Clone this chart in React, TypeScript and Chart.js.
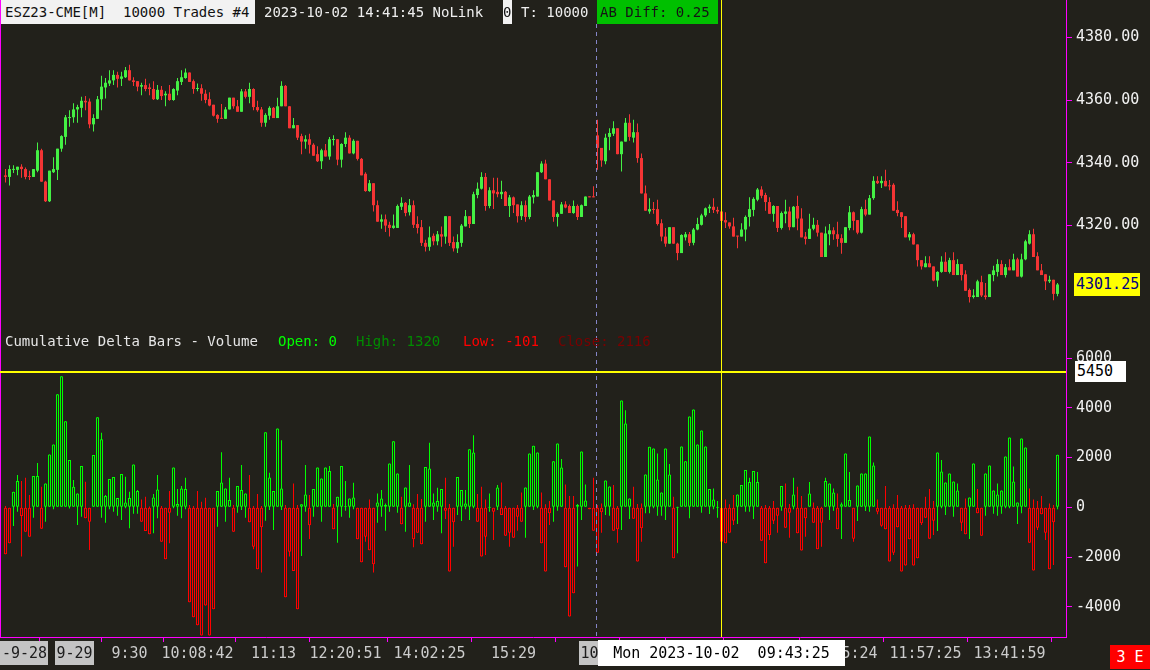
import React, { useEffect, useRef } from 'react';
import { Chart, registerables } from 'chart.js';
Chart.register(...registerables);

const BG = '#22211b';
const MAGENTA = '#ff00ff';
const MONO = '"DejaVu Sans Mono", "Liberation Mono", monospace';
const CROSS = '#ffff00';

// ---- price bars (OHLC) ----
const candleOpen = [
  4336.0,4335.5,4337.75,4337.75,4338.75,4338.0,4335.75,4335.5,4337.5,4344.0,
  4334.0,4327.75,4337.0,4337.75,4344.5,4348.25,4354.25,4354.5,4357.0,4357.5,
  4359.75,4359.5,4352.25,4354.0,4360.25,4364.0,4365.25,4366.25,4368.0,4366.75,
  4367.25,4369.5,4366.25,4366.0,4364.25,4364.75,4364.0,4363.5,4360.25,4363.25,
  4361.5,4362.0,4360.0,4363.0,4365.75,4367.0,4368.75,4366.0,4363.5,4363.75,
  4362.0,4360.25,4358.5,4355.25,4354.25,4354.0,4357.0,4360.75,4358.0,4356.25,
  4362.75,4361.0,4363.5,4357.75,4357.0,4352.75,4355.0,4357.5,4354.25,4358.0,
  4364.5,4358.0,4351.0,4352.0,4348.5,4346.75,4347.5,4345.75,4342.75,4340.5,
  4344.0,4342.0,4347.25,4347.5,4341.0,4346.0,4348.0,4343.0,4347.0,4341.25,
  4336.5,4331.0,4333.5,4326.5,4321.25,4322.0,4320.25,4319.25,4319.25,4326.0,
  4327.25,4324.25,4326.5,4320.5,4319.5,4314.5,4313.25,4316.75,4315.0,4317.25,
  4316.5,4323.0,4314.75,4312.75,4314.5,4319.75,4323.0,4320.5,4329.75,4331.75,
  4335.5,4326.25,4331.25,4330.75,4330.0,4330.75,4326.25,4329.0,4326.75,4323.0,
  4326.5,4322.75,4329.0,4329.25,4337.0,4339.75,4334.75,4328.0,4322.75,4323.75,
  4326.75,4326.25,4324.0,4326.25,4322.75,4326.25,4329.25,4329.25,4348.75,4344.75,
  4340.5,4348.25,4349.25,4351.0,4342.75,4346.75,4352.75,4348.0,4349.75,4341.5,
  4330.25,4324.5,4325.25,4325.25,4320.75,4316.5,4314.25,4319.5,4314.25,4311.25,
  4316.25,4317.25,4314.5,4318.75,4320.25,4323.25,4325.5,4326.0,4325.0,4324.5,
  4321.75,4321.0,4319.75,4316.75,4316.5,4318.75,4322.75,4325.0,4328.25,4331.5,
  4329.75,4327.5,4323.75,4326.25,4319.25,4323.75,4324.5,4319.5,4326.25,4322.25,
  4316.5,4315.75,4319.0,4320.25,4317.75,4310.0,4317.25,4318.5,4317.25,4316.0,
  4314.5,4319.25,4324.25,4321.75,4317.75,4325.25,4323.5,4328.75,4334.25,4333.5,
  4334.25,4332.75,4333.0,4325.0,4324.25,4323.0,4316.25,4317.25,4314.0,4309.0,
  4306.75,4308.0,4307.0,4302.5,4305.25,4308.5,4305.25,4309.0,4304.25,4307.75,
  4304.5,4299.5,4297.25,4297.25,4302.0,4297.75,4297.25,4304.25,4305.25,4307.75,
  4304.25,4306.75,4305.75,4309.25,4303.75,4309.25,4314.25,4317.25,4310.25,4305.75,
  4304.5,4302.25,4302.75,4298.25,
];
const candleHigh = [
  4338.0,4339.25,4339.25,4338.75,4339.5,4338.5,4337.5,4338.0,4346.5,4344.5,
  4334.25,4337.5,4341.75,4344.5,4348.75,4355.25,4356.75,4359.0,4358.5,4361.0,
  4361.25,4360.5,4355.5,4361.25,4367.75,4367.0,4369.5,4369.5,4369.0,4369.0,
  4370.5,4371.25,4367.25,4366.0,4365.5,4366.75,4365.25,4366.0,4364.75,4364.5,
  4362.75,4364.75,4363.75,4367.0,4369.5,4370.0,4368.75,4366.5,4365.25,4365.0,
  4363.25,4362.5,4358.5,4355.5,4358.75,4357.75,4360.75,4360.75,4360.0,4363.5,
  4363.5,4365.5,4363.75,4359.75,4357.75,4355.75,4358.0,4357.75,4360.75,4366.0,
  4364.75,4358.0,4354.25,4352.0,4349.25,4348.75,4349.25,4346.25,4345.25,4344.5,
  4346.0,4348.25,4348.75,4347.5,4346.25,4349.75,4348.75,4347.5,4347.0,4341.5,
  4337.0,4334.5,4333.5,4328.0,4323.5,4323.5,4321.25,4323.5,4326.75,4329.0,
  4327.5,4328.5,4328.0,4323.0,4321.75,4315.5,4319.75,4317.5,4318.25,4319.75,
  4323.0,4323.0,4316.5,4317.25,4320.5,4325.0,4323.0,4330.75,4333.75,4337.0,
  4336.75,4332.25,4335.25,4335.25,4334.25,4331.0,4329.75,4329.25,4326.75,4327.75,
  4328.0,4329.75,4331.25,4337.0,4340.5,4341.0,4334.75,4328.0,4324.25,4327.5,
  4327.75,4326.75,4328.0,4326.75,4326.75,4329.25,4329.25,4332.5,4353.75,4344.75,
  4349.25,4351.0,4353.25,4351.0,4346.75,4354.25,4355.5,4353.75,4352.5,4343.0,
  4332.75,4328.75,4327.5,4328.25,4322.0,4319.25,4319.5,4319.5,4314.5,4317.25,
  4318.0,4318.0,4319.25,4322.5,4323.75,4325.75,4326.75,4328.75,4326.0,4327.5,
  4324.25,4321.0,4322.5,4316.75,4320.75,4323.25,4329.0,4329.0,4332.0,4332.5,
  4330.5,4329.0,4326.5,4326.25,4324.5,4328.25,4326.0,4326.25,4329.5,4325.5,
  4318.0,4323.75,4322.5,4321.75,4317.75,4319.75,4320.5,4319.5,4321.25,4317.25,
  4319.5,4326.25,4324.5,4321.75,4326.0,4328.25,4329.75,4335.75,4335.75,4335.75,
  4337.75,4334.5,4333.5,4327.75,4324.25,4323.0,4318.0,4317.75,4314.0,4309.0,
  4310.25,4310.25,4307.0,4305.5,4310.25,4311.5,4309.75,4311.5,4309.25,4307.75,
  4305.75,4300.0,4299.75,4302.75,4304.0,4301.75,4304.5,4307.25,4309.25,4309.0,
  4307.75,4309.25,4311.0,4309.75,4311.0,4315.5,4318.5,4319.0,4311.5,4307.75,
  4304.5,4304.0,4302.75,4301.75,
];
const candleLow = [
  4333.75,4332.75,4336.75,4336.0,4335.25,4334.75,4334.5,4335.5,4337.0,4334.0,
  4327.5,4327.5,4336.75,4334.5,4343.5,4345.75,4351.5,4352.75,4352.75,4354.5,
  4356.75,4351.0,4350.0,4354.0,4356.75,4360.5,4364.5,4364.75,4364.0,4364.5,
  4367.0,4366.25,4364.5,4362.75,4361.5,4362.75,4361.5,4360.0,4360.0,4360.0,
  4358.0,4359.75,4359.75,4361.5,4364.75,4366.75,4365.75,4362.0,4362.75,4359.75,
  4359.0,4358.0,4354.75,4352.75,4354.0,4354.0,4357.0,4357.25,4356.25,4356.25,
  4360.5,4359.0,4356.75,4356.25,4351.5,4351.5,4353.75,4354.25,4354.25,4358.0,
  4358.0,4351.0,4351.0,4347.25,4342.75,4344.5,4343.0,4342.25,4340.25,4338.0,
  4342.0,4341.0,4345.5,4339.25,4338.5,4345.0,4343.0,4342.75,4340.75,4336.0,
  4330.75,4330.75,4324.5,4321.25,4319.0,4318.0,4316.5,4319.0,4319.25,4325.0,
  4323.0,4323.25,4319.25,4317.5,4313.5,4311.75,4312.0,4313.75,4313.75,4313.25,
  4314.25,4313.5,4311.75,4311.25,4313.25,4319.75,4319.25,4320.5,4328.75,4331.5,
  4324.75,4325.5,4325.25,4329.0,4328.5,4326.25,4322.75,4324.0,4321.0,4321.75,
  4321.25,4322.0,4327.0,4329.25,4336.75,4334.75,4328.0,4321.25,4319.75,4323.75,
  4325.5,4324.0,4323.75,4321.75,4322.75,4326.25,4329.0,4329.0,4337.75,4338.75,
  4339.5,4344.0,4348.5,4342.75,4337.25,4346.75,4347.0,4346.5,4340.0,4330.25,
  4324.75,4323.75,4323.75,4320.0,4315.0,4313.25,4314.25,4314.25,4309.0,4311.25,
  4315.25,4313.5,4313.75,4318.5,4320.0,4322.75,4324.0,4324.0,4323.75,4321.5,
  4319.25,4319.0,4316.5,4312.75,4316.5,4315.0,4319.75,4323.0,4327.75,4328.75,
  4324.75,4323.75,4321.25,4318.0,4318.75,4320.75,4318.5,4319.5,4318.5,4316.25,
  4314.0,4315.75,4318.5,4316.5,4310.0,4310.0,4313.75,4315.5,4313.25,4311.0,
  4314.5,4318.5,4318.5,4317.25,4317.5,4323.0,4323.5,4328.25,4333.25,4332.0,
  4332.5,4331.25,4324.75,4323.0,4319.25,4316.25,4315.25,4314.0,4307.0,4306.0,
  4306.75,4306.75,4302.25,4300.5,4305.0,4305.25,4304.75,4304.25,4304.25,4302.5,
  4299.25,4295.5,4296.75,4297.25,4297.25,4296.5,4297.25,4302.25,4303.75,4304.25,
  4303.5,4305.75,4305.75,4303.75,4303.5,4309.0,4314.0,4310.0,4305.75,4304.25,
  4299.5,4301.75,4296.25,4297.5,
];
const candleClose = [
  4335.5,4338.0,4338.0,4338.75,4338.0,4335.5,4335.5,4338.0,4344.0,4334.0,
  4327.75,4337.5,4338.0,4344.5,4348.5,4354.5,4354.5,4357.0,4357.75,4359.75,
  4359.25,4352.25,4354.25,4360.25,4364.25,4365.5,4366.25,4368.0,4366.75,4367.5,
  4369.5,4366.25,4365.75,4364.25,4364.75,4363.5,4363.5,4360.25,4363.25,4361.25,
  4362.0,4360.0,4363.5,4366.0,4367.25,4368.75,4365.75,4363.5,4363.75,4362.0,
  4360.0,4358.25,4355.0,4354.0,4354.0,4357.0,4360.75,4358.0,4356.25,4362.75,
  4361.0,4363.5,4357.75,4356.75,4352.75,4355.25,4357.5,4354.25,4358.0,4364.5,
  4358.0,4351.0,4352.0,4348.0,4346.75,4347.5,4345.75,4342.25,4340.5,4344.0,
  4342.0,4347.5,4347.5,4341.0,4346.0,4348.0,4343.0,4347.0,4341.25,4336.0,
  4331.0,4333.5,4326.5,4321.25,4322.0,4320.0,4319.25,4320.0,4326.25,4327.25,
  4324.0,4326.5,4320.25,4319.25,4314.5,4313.25,4316.25,4315.0,4317.25,4316.5,
  4323.0,4314.5,4312.75,4314.75,4320.0,4323.0,4320.5,4330.0,4331.75,4335.5,
  4326.25,4331.25,4330.25,4330.0,4330.75,4326.25,4329.0,4326.5,4323.0,4326.5,
  4322.75,4329.25,4329.75,4337.0,4339.75,4334.75,4328.0,4322.75,4323.75,4326.75,
  4325.75,4324.0,4326.25,4322.75,4326.5,4329.25,4329.0,4329.0,4344.75,4340.75,
  4348.0,4349.5,4351.0,4342.75,4346.75,4352.75,4348.25,4349.75,4341.5,4330.25,
  4324.75,4325.25,4325.0,4320.5,4316.5,4314.25,4319.5,4314.25,4311.25,4317.0,
  4317.25,4314.5,4318.75,4320.5,4323.25,4325.5,4326.0,4325.0,4324.5,4321.5,
  4321.0,4319.75,4316.5,4316.5,4318.75,4322.75,4325.25,4328.5,4331.5,4329.5,
  4327.5,4323.75,4326.25,4319.25,4324.0,4324.5,4319.5,4326.0,4322.25,4316.25,
  4315.75,4319.0,4320.25,4317.75,4310.0,4317.5,4318.5,4317.25,4315.75,4314.5,
  4319.5,4324.25,4321.5,4317.75,4325.25,4323.5,4328.75,4334.25,4333.5,4334.25,
  4332.5,4332.5,4324.75,4324.0,4322.75,4316.25,4317.25,4314.0,4309.0,4307.0,
  4308.0,4306.75,4302.5,4305.25,4308.5,4305.25,4309.0,4304.25,4307.75,4304.25,
  4299.25,4297.25,4297.75,4302.25,4297.75,4297.25,4304.5,4305.75,4307.75,4304.25,
  4306.75,4305.75,4309.25,4303.75,4309.25,4315.0,4317.25,4310.0,4305.75,4304.25,
  4302.25,4302.75,4298.25,4301.25,
];

// ---- cumulative delta bars (open is 0) ----
const deltaClose = [
  -1891,-1449,627,1055,-351,-980,-1181,1256,1256,-860,
  961,2126,2528,4550,5273,3465,1899,827,560,1658,
  -445,-578,2100,3626,2742,453,1135,1216,372,1336,
  198,372,1725,653,-578,-953,-1087,399,720,-1382,
  -2092,-217,1604,131,760,734,-3819,-4421,-4743,-5158,
  -3953,-5158,-4100,653,1002,760,292,-980,854,694,
  560,-605,-1583,-2493,-806,3024,1202,653,3171,760,
  -3618,-1784,-2560,-4100,118,520,-726,734,1604,1162,
  1604,1457,-886,426,1658,51,359,399,-1288,-2212,
  -1181,-1730,-2292,198,359,91,1765,2662,1363,-685,
  801,198,-1288,-1020,-1489,1618,1564,198,252,734,
  -137,-2587,-605,1216,694,158,2341,2207,-578,-1984,
  -1181,24,-177,801,-311,-1141,-1020,-1221,-378,-578,
  801,2167,2474,2207,-1449,-2587,-244,1858,2568,1604,
  -2413,-4395,-3457,91,2247,278,-80,-940,-1824,-203,
  1082,841,-940,-886,4296,3372,359,-458,-2185,-846,
  1323,2434,2367,1122,600,2367,1323,-2051,24,2448,
  1858,3653,3934,2528,3090,2448,734,319,24,-1382,
  -1449,-1020,-538,520,895,1497,1015,1457,1015,-1342,
  -2252,-1114,-538,-338,854,-819,-217,520,-1047,-1743,
  -445,560,-619,-1690,-619,1055,961,600,-886,118,
  2167,292,-1261,881,1363,1363,2849,1684,-177,-739,
  -886,-2185,-1824,-806,-2587,-2346,-1288,-2346,-2051,-645,
  -418,-1261,-538,2207,1443,1002,1363,1042,680,-619,
  -1087,399,1765,-244,-1141,1363,1684,680,520,680,
  2046,2809,1042,198,2769,2407,-1422,-2547,-819,-284,
  -1020,-2493,-605,2116,
];
const deltaHigh = [
  51,0,627,1296,1055,1189,493,1256,1778,827,
  961,2126,2528,4550,5273,3465,1899,1095,560,1658,
  1028,0,2100,3626,2997,493,1135,1216,372,1336,
  1229,627,1725,694,319,426,30,533,1296,51,
  0,653,1604,734,854,1189,91,51,653,225,
  386,0,0,653,2220,760,1189,91,854,1698,
  560,1296,51,533,51,3024,1390,653,3171,2702,
  91,0,961,91,118,1698,493,734,1604,1162,
  1604,1658,131,426,1658,1055,359,988,0,0,
  0,319,0,560,694,158,1765,2662,1363,426,
  801,1698,118,533,332,1618,2595,560,787,734,
  1189,131,0,1216,694,694,2341,2903,533,827,
  319,560,0,895,1002,51,0,0,91,600,
  801,2167,2474,2207,600,118,252,1858,2568,1939,
  921,453,453,131,2247,921,0,1189,91,158,
  1082,841,895,51,4296,3907,359,827,131,158,
  1323,2434,2367,2167,600,2367,1738,426,24,2448,
  1858,3653,3934,2528,3090,2448,734,760,252,734,
  319,118,493,520,895,1497,1189,1457,1417,51,
  91,51,252,0,854,961,131,1189,827,453,
  0,1015,198,51,24,1189,961,760,560,198,
  2167,1417,0,881,1363,1363,2849,1805,319,0,
  854,51,118,493,51,91,91,118,0,0,
  426,734,252,2207,1899,1002,1363,1042,961,0,
  359,399,1765,734,0,1363,1684,680,961,680,
  2046,2809,1644,198,2769,2407,760,319,252,453,
  0,158,91,2116,
];
const deltaLow = [
  -1891,-1449,-753,-177,-1984,-980,-1181,-418,0,-860,
  -578,0,-80,0,0,0,-50,0,-712,-378,
  -445,-1717,0,0,-418,-619,-80,-177,-338,-511,
  -40,-846,-257,-257,-578,-953,-1087,-1047,-445,-1382,
  -2092,-1449,-40,-338,-445,-80,-3819,-4421,-4743,-5158,
  -3953,-5158,-4100,-779,0,-578,0,-980,-217,-110,
  -418,-605,-1690,-2493,-2627,-538,-110,-913,0,-110,
  -3618,-1984,-2560,-4100,-1958,-177,-1275,-378,0,-578,
  0,0,-886,-1422,-378,-137,-418,-80,-1288,-2212,
  -1382,-1730,-2627,-619,-378,-940,-177,0,-217,-685,
  -980,0,-1610,-1020,-1489,-578,0,-511,-177,-1047,
  -472,-2587,-1583,-311,-552,-80,-511,-40,-578,-1984,
  -1917,-177,-1315,-110,-311,-1141,-1583,-1221,-940,-578,
  -1221,0,-110,-40,-1449,-2587,-712,-578,-137,0,
  -2413,-4395,-3457,-2386,-511,0,-80,-940,-1824,-1020,
  -311,-338,-940,-1422,-913,0,-472,-458,-2185,-1382,
  -244,-244,-40,-338,-338,-511,0,-2051,-1851,0,
  0,-445,0,0,-217,0,-271,-80,-418,-1382,
  -1449,-1020,-712,-672,0,-177,-177,-472,0,-1342,
  -2252,-1315,-672,-1020,-137,-819,-1221,-80,-1047,-1743,
  -1181,0,-619,-1690,-1583,0,-511,-137,-886,-1275,
  0,0,-1382,-552,0,-150,-177,0,-283,-779,
  -886,-2185,-1917,-806,-2587,-2346,-1288,-2346,-2051,-712,
  -418,-1261,-1114,-953,-40,-311,0,-378,0,-953,
  -1087,-1275,0,-244,-1141,-338,0,-257,-338,-257,
  -40,-40,0,-672,-244,0,-1422,-2547,-913,-284,
  -1315,-2493,-2319,-80,
];

// ---- axes ----
const priceTicks = [4320, 4340, 4360, 4380];
const deltaTicks = [-4000, -2000, 0, 2000, 4000, 6000];
const xTickIndex = [0, 17, 31, 48, 67, 85, 106, 127, 148, 159, 171, 188, 209, 230, 251];
const xLabelIndex = [0, 17, 31, 48, 67, 85, 106, 127, 148, 209, 230, 251];
const xLabelText = ['-9-28', '9-29', '9:30', '10:08:42', '11:13', '12:20:51', '14:02:25', '15:29', '10-02', '10:55:24', '11:57:25', '13:41:59'];
const xLabelBoxed = [true, true, false, false, false, false, false, false, true, false, false, false];
const sessionBreak = 147.75;
const crossIndex = 179;
const crossDelta = 5450;
const crossLabel = 'Mon 2023-10-02  09:43:25';

const X_MIN = -1.375;
const X_MAX = 265.125;
const P_MAX = 4391.85;
const P_MIN = 4286.75;
const D_MAX = 7135;
const D_MIN = -5219;

const idx = candleClose.map((_, i) => i);
const UP = '#44f044';
const DN = '#f43434';
const candleCol = idx.map((i) => (candleClose[i] >= candleOpen[i] ? UP : DN));
const DUP = '#00ff00';
const DDN = '#ff0000';
const deltaCol = idx.map((i) => (deltaClose[i] >= 0 ? DUP : DDN));

function drawVLines(chart: any, offsetY: number, bottomPage: number) {
  const ctx = chart.ctx;
  const xs = chart.scales.x;
  ctx.save();
  ctx.fillStyle = MAGENTA;
  ctx.fillRect(0, 0, 1, bottomPage - offsetY);
  const sx = Math.floor(xs.getPixelForValue(sessionBreak));
  ctx.fillStyle = '#8585c8';
  for (let py = 24; py < bottomPage; py += 8) {
    const y0 = py - offsetY;
    const y1 = Math.min(py + 4, bottomPage) - offsetY;
    if (y1 <= 0) continue;
    ctx.fillRect(sx, Math.max(0, y0), 1, y1 - Math.max(0, y0));
  }
  const cx = Math.floor(xs.getPixelForValue(crossIndex));
  ctx.fillStyle = CROSS;
  ctx.fillRect(cx, 0, 1, bottomPage - offsetY);
  ctx.restore();
}

const baseOptions: any = {
  responsive: false,
  animation: false,
  events: [],
  layout: { padding: 0, autoPadding: false },
  plugins: { legend: { display: false }, tooltip: { enabled: false } },
};

function yAxis(min: number, max: number, ticks: number[], fmt: (v: number) => string) {
  return {
    type: 'linear',
    position: 'right',
    min,
    max,
    afterFit: (s: any) => {
      s.width = 84;
      s.paddingTop = 0;
      s.paddingBottom = 0;
    },
    afterBuildTicks: (s: any) => {
      s.ticks = ticks.map((v) => ({ value: v }));
    },
    ticks: {
      color: '#f2f2f2',
      font: { family: MONO, size: 15 },
      padding: 4,
      callback: (v: any) => fmt(Number(v)),
    },
    grid: { drawOnChartArea: false, drawTicks: true, tickLength: 6, color: MAGENTA, lineWidth: 1 },
    border: { display: true, color: MAGENTA, width: 1 },
  };
}

export default function App() {
  const topRef = useRef<HTMLCanvasElement>(null);
  const botRef = useRef<HTMLCanvasElement>(null);

  useEffect(() => {
    const top = new Chart(topRef.current as HTMLCanvasElement, {
      type: 'bar',
      data: {
        datasets: [
          {
            data: idx.map((i) => ({ x: i, y: [candleOpen[i], candleClose[i]] })) as any,
            backgroundColor: candleCol,
            borderWidth: 0,
            barThickness: 3,
            minBarLength: 1,
            grouped: false,
            inflateAmount: 0,
            order: 0,
          } as any,
          {
            data: idx.map((i) => ({ x: i, y: [candleLow[i], candleHigh[i]] })) as any,
            backgroundColor: candleCol,
            borderWidth: 0,
            barThickness: 1,
            grouped: false,
            inflateAmount: 0,
            order: 1,
          } as any,
        ],
      },
      options: {
        ...baseOptions,
        scales: {
          x: { type: 'linear', min: X_MIN, max: X_MAX, display: false, offset: false },
          y: yAxis(P_MIN, P_MAX, priceTicks, (v) => v.toFixed(2)),
        },
      },
      plugins: [
        {
          id: 'topOverlay',
          afterDraw: (chart: any) => drawVLines(chart, 0, 330),
        },
      ],
    } as any);

    const bot = new Chart(botRef.current as HTMLCanvasElement, {
      type: 'bar',
      data: {
        datasets: [
          {
            data: idx.map((i) => ({ x: i, y: [0, deltaClose[i]] })) as any,
            backgroundColor: BG,
            borderColor: deltaCol,
            borderWidth: 1,
            borderSkipped: false,
            barThickness: 3,
            minBarLength: 1,
            grouped: false,
            inflateAmount: 0,
            order: 0,
          } as any,
          {
            data: idx.map((i) => ({ x: i, y: [deltaLow[i], deltaHigh[i]] })) as any,
            backgroundColor: deltaCol,
            borderWidth: 0,
            barThickness: 1,
            grouped: false,
            inflateAmount: 0,
            order: 1,
          } as any,
        ],
      },
      options: {
        ...baseOptions,
        scales: {
          x: {
            type: 'linear',
            position: 'bottom',
            min: X_MIN,
            max: X_MAX,
            offset: false,
            afterFit: (s: any) => {
              s.height = 33;
              s.paddingLeft = 0;
              s.paddingRight = 0;
            },
            afterBuildTicks: (s: any) => {
              s.ticks = xTickIndex.map((v) => ({ value: v }));
            },
            ticks: { display: false },
            grid: { drawOnChartArea: false, drawTicks: true, tickLength: 5, color: MAGENTA, lineWidth: 1 },
            border: { display: true, color: MAGENTA, width: 1 },
          },
          y: yAxis(D_MIN, D_MAX, deltaTicks, (v) => String(v)),
        },
      },
      plugins: [
        {
          id: 'botOverlay',
          afterDraw: (chart: any) => {
            const ctx = chart.ctx;
            const xs = chart.scales.x;
            const ys = chart.scales.y;
            const area = chart.chartArea;
            drawVLines(chart, 330, 330 + area.bottom);
            ctx.save();
            const hy = Math.round(ys.getPixelForValue(crossDelta));
            ctx.fillStyle = CROSS;
            ctx.fillRect(0, hy - 1, area.right, 2);
            ctx.font = `15px ${MONO}`;
            ctx.textBaseline = 'middle';
            ctx.textAlign = 'left';
            const ly = area.bottom + 17;
            xLabelIndex.forEach((v, k) => {
              const text = xLabelText[k];
              const w = ctx.measureText(text).width;
              const cx = xs.getPixelForValue(v);
              let left: number;
              if (xLabelBoxed[k]) {
                left = Math.max(2, cx - 17);
                ctx.fillStyle = '#c4c4c4';
                ctx.fillRect(Math.round(left - 2), area.bottom + 4, Math.round(w + 3), 24);
                ctx.fillStyle = '#1c1c1c';
              } else {
                left = cx - w / 2;
                ctx.fillStyle = '#cccccc';
              }
              ctx.fillText(text, left, ly);
            });
            const ccx = xs.getPixelForValue(crossIndex);
            const cw = ctx.measureText(crossLabel).width;
            ctx.fillStyle = '#ffffff';
            ctx.fillRect(Math.round(ccx - cw / 2 - 15), area.bottom + 3, Math.round(cw + 30), 26);
            ctx.fillStyle = '#000000';
            ctx.fillText(crossLabel, ccx - cw / 2, ly);
            ctx.restore();
          },
        },
      ],
    } as any);

    return () => {
      top.destroy();
      bot.destroy();
    };
  }, []);

  const txt: React.CSSProperties = {
    position: 'absolute',
    fontFamily: MONO,
    fontSize: 14,
    whiteSpace: 'pre',
    lineHeight: '24px',
    height: 24,
  };

  return (
    <div
      style={{
        position: 'fixed',
        left: 0,
        top: 0,
        width: 1150,
        height: 670,
        background: BG,
        overflow: 'hidden',
      }}
    >
      <canvas ref={topRef} width={1150} height={330} style={{ position: 'absolute', left: 0, top: 0 }} />
      <canvas ref={botRef} width={1150} height={340} style={{ position: 'absolute', left: 0, top: 330 }} />

      {/* header */}
      <div style={{ ...txt, left: 1, top: 0, width: 250, paddingLeft: 4, background: '#f2f2f2', color: '#111' }}>
        {'ESZ23-CME[M]  10000 Trades #4'}
      </div>
      <div style={{ ...txt, left: 264, top: 0, color: '#eeeeee' }}>{'2023-10-02 14:41:45 NoLink'}</div>
      <div style={{ ...txt, left: 503, top: 0, width: 9, background: '#f2f2f2', color: '#111' }}>0</div>
      <div style={{ ...txt, left: 521, top: 0, color: '#eeeeee' }}>{'T: 10000'}</div>
      <div style={{ ...txt, left: 597, top: 0, width: 118, paddingLeft: 3, background: '#00c000', color: '#141414' }}>
        {'AB Diff: 0.25'}
      </div>

      {/* study label */}
      <div style={{ ...txt, left: 5, top: 329, color: '#e6e6e6' }}>{'Cumulative Delta Bars - Volume'}</div>
      <div style={{ ...txt, left: 278, top: 329, color: '#00ff00' }}>{'Open: 0'}</div>
      <div style={{ ...txt, left: 356, top: 329, color: '#008c00' }}>{'High: 1320'}</div>
      <div style={{ ...txt, left: 463, top: 329, color: '#ff0000' }}>{'Low: -101'}</div>
      <div style={{ ...txt, left: 558, top: 329, color: '#7a0000' }}>{'Close: 2116'}</div>

      {/* axis value boxes */}
      <div
        style={{ ...txt, left: 1074, top: 273, width: 64, paddingLeft: 2, height: 23, lineHeight: '23px', fontSize: 15, background: '#ffff00', color: '#000080' }}
      >
        4301.25
      </div>
      <div
        style={{ ...txt, left: 1075, top: 361, width: 49, paddingLeft: 2, height: 21, lineHeight: '21px', fontSize: 15, background: '#ffffff', color: '#000' }}
      >
        5450
      </div>
      <div
        style={{ ...txt, left: 1110, top: 645, width: 40, height: 24, textAlign: 'center', fontSize: 15, background: '#ff0000', color: '#ffffff' }}
      >
        3 E
      </div>
    </div>
  );
}
